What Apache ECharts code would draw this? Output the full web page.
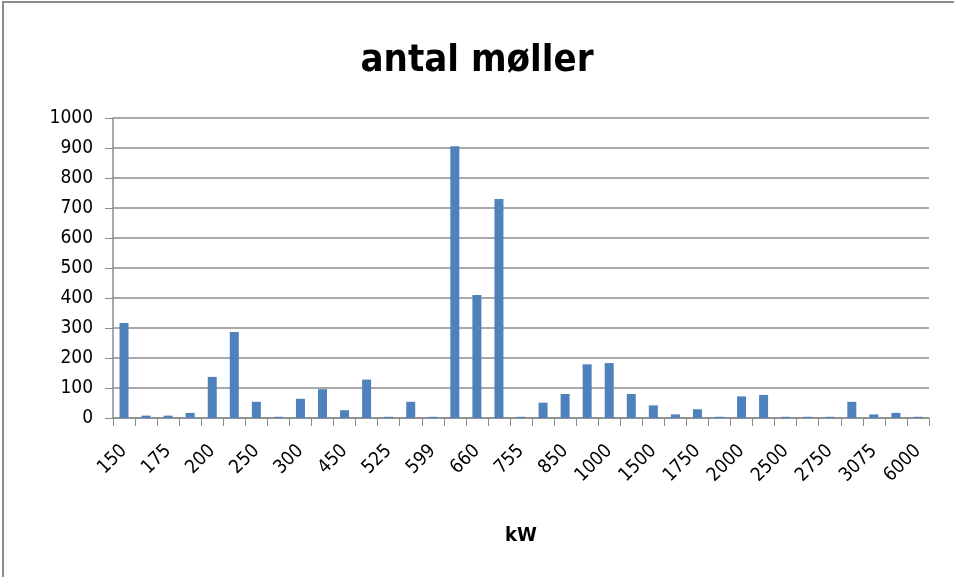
<!DOCTYPE html>
<html>
<head>
<meta charset="utf-8">
<script src="https://cdn.jsdelivr.net/npm/echarts@6/dist/echarts.min.js"></script>
<style>
  html, body { margin: 0; padding: 0; background: #fff; }
  #main { width: 954px; height: 577px; }
</style>
</head>
<body>
<div id="main"></div>
<script>
// turbine size (kW) – only every other label is printed on the axis
const categories = ['150', '155', '175', '180', '200', '225', '250', '265', '300', '400',
  '450', '500', '525', '550', '599', '600', '660', '750', '755', '800',
  '850', '900', '1000', '1300', '1500', '1650', '1750', '1800', '2000', '2300',
  '2500', '2600', '2750', '3000', '3075', '3600', '6000'];
// antal møller
const counts = [317, 8, 8, 17, 137, 287, 54, 4, 64, 96,
  26, 128, 4, 54, 4, 906, 410, 730, 4, 51,
  80, 179, 183, 80, 42, 12, 29, 4, 72, 77,
  4, 4, 4, 54, 12, 17, 4];
const yTicks = [0, 100, 200, 300, 400, 500, 600, 700, 800, 900, 1000];

const font = "'Liberation Sans Narrow', 'DejaVu Sans Condensed', sans-serif";

let myChart = echarts.init(document.getElementById('main'));
myChart.setOption({
  backgroundColor: '#fff',
  animation: false,
  title: {
    text: 'antal møller',
    left: 'center',
    top: 37,
    textStyle: { fontFamily: font, fontSize: 38, fontWeight: 'bold', color: '#000' }
  },
  graphic: [{
    type: 'rect',
    shape: { x: 3, y: 2, width: 980, height: 620 },
    style: { fill: 'none', stroke: '#8c8c8c', lineWidth: 2 },
    silent: true
  }],
  grid: { left: 113, right: 25, top: 118, bottom: 159 },
  xAxis: {
    type: 'category',
    data: categories,
    name: 'kW',
    nameLocation: 'middle',
    nameGap: 108,
    nameTextStyle: { fontFamily: font, fontSize: 20, fontWeight: 'bold', color: '#000' },
    axisLine: { lineStyle: { color: '#8c8c8c', width: 1.5 } },
    axisTick: { show: true, interval: 0, length: 8, lineStyle: { color: '#8c8c8c' } },
    axisLabel: { interval: 1, rotate: 45, margin: 30, fontFamily: font, fontSize: 19, color: '#000' }
  },
  yAxis: {
    type: 'value',
    min: yTicks[0],
    max: yTicks[yTicks.length - 1],
    interval: 100,
    axisLine: { show: true, lineStyle: { color: '#8c8c8c', width: 1.5 } },
    axisTick: { show: true, length: 8, lineStyle: { color: '#8c8c8c' } },
    axisLabel: { margin: 20, fontFamily: font, fontSize: 19, color: '#000', formatter: v => String(v) },
    splitLine: { lineStyle: { color: '#8c8c8c', width: 1.5 } }
  },
  series: [{
    type: 'bar',
    data: counts,
    barWidth: 9,
    itemStyle: { color: '#4f81bd' }
  }]
});
</script>
</body>
</html>
